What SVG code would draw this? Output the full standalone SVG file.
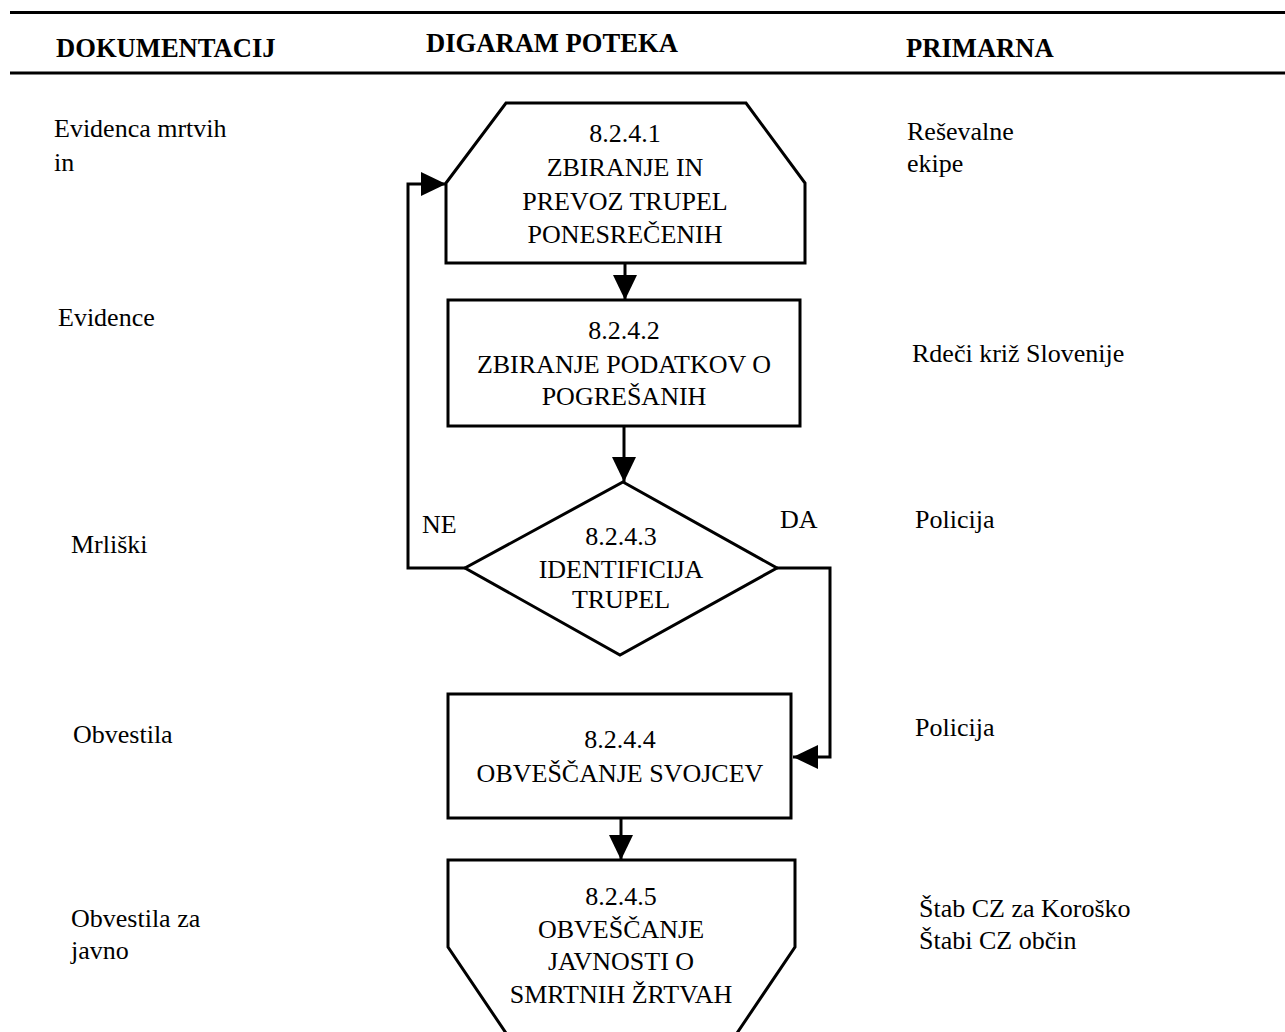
<svg xmlns="http://www.w3.org/2000/svg" width="1285" height="1032" viewBox="0 0 1285 1032" font-family="'Liberation Serif', 'Times New Roman', Tinos, 'DejaVu Serif', serif">
<style>
text{font-family:'Liberation Serif','Times New Roman',Tinos,'DejaVu Serif',serif;font-size:26px;fill:#000}
.h{font-weight:bold;font-size:26.6px}
.c{text-anchor:middle}
.shape{fill:#fff;stroke:#000;stroke-width:3}
.conn{fill:none;stroke:#000;stroke-width:3}
.rule{stroke:#000;stroke-width:3}
</style>
<defs>
<marker id="arr" viewBox="0 0 25 24" refX="25" refY="12" markerWidth="25" markerHeight="24" markerUnits="userSpaceOnUse" orient="auto">
<path d="M0,0 L25,12 L0,24 Z" fill="#000"/>
</marker>
</defs>
<rect width="1285" height="1032" fill="#fff"/>
<g id="header">
<line class="rule" x1="10" y1="12.5" x2="1285" y2="12.5"/>
<line class="rule" x1="10" y1="73" x2="1285" y2="73"/>
<text class="h" x="56" y="57">DOKUMENTACIJ</text>
<text class="h" x="426" y="52">DIGARAM POTEKA</text>
<text class="h" x="906" y="57">PRIMARNA</text>
</g>
<g id="left-column">
<text x="54" y="137">Evidenca mrtvih</text>
<text x="54" y="171">in</text>
<text x="58" y="326">Evidence</text>
<text x="71" y="553">Mrliški</text>
<text x="73" y="743">Obvestila</text>
<text x="71" y="927">Obvestila za</text>
<text x="71" y="959">javno</text>
</g>
<g id="right-column">
<text x="907" y="140">Reševalne</text>
<text x="907" y="172">ekipe</text>
<text x="912" y="362">Rdeči križ Slovenije</text>
<text x="915" y="528">Policija</text>
<text x="915" y="736">Policija</text>
<text x="919" y="917">Štab CZ za Koroško</text>
<text x="919" y="949">Štabi CZ občin</text>
</g>
<g id="connectors">
<line class="conn" x1="625" y1="263" x2="625" y2="300" marker-end="url(#arr)"/>
<line class="conn" x1="624" y1="426" x2="624" y2="482" marker-end="url(#arr)"/>
<polyline class="conn" points="465,568 408,568 408,184 446,184" marker-end="url(#arr)"/>
<polyline class="conn" points="777,568 830,568 830,757 793,757" marker-end="url(#arr)"/>
<line class="conn" x1="621" y1="818" x2="621" y2="860" marker-end="url(#arr)"/>
<text x="422" y="533">NE</text>
<text x="780" y="528">DA</text>
</g>
<g id="node-8-2-4-1">
<polygon class="shape" points="446,183 506,103 746,103 805,183 805,263 446,263"/>
<text class="c" x="625" y="142">8.2.4.1</text>
<text class="c" x="625" y="176">ZBIRANJE IN</text>
<text class="c" x="625" y="210">PREVOZ TRUPEL</text>
<text class="c" x="625" y="243">PONESREČENIH</text>
</g>
<g id="node-8-2-4-2">
<rect class="shape" x="448" y="300" width="352" height="126"/>
<text class="c" x="624" y="339">8.2.4.2</text>
<text class="c" x="624" y="373">ZBIRANJE PODATKOV O</text>
<text class="c" x="624" y="405">POGREŠANIH</text>
</g>
<g id="node-8-2-4-3">
<polygon class="shape" points="623,482 777,568 620,655 465,568"/>
<text class="c" x="621" y="545">8.2.4.3</text>
<text class="c" x="621" y="578">IDENTIFICIJA</text>
<text class="c" x="621" y="608">TRUPEL</text>
</g>
<g id="node-8-2-4-4">
<rect class="shape" x="448" y="694" width="343" height="124"/>
<text class="c" x="620" y="748">8.2.4.4</text>
<text class="c" x="620" y="782">OBVEŠČANJE SVOJCEV</text>
</g>
<g id="node-8-2-4-5">
<polygon class="shape" points="448,860 795,860 795,947 731,1042 512,1042 448,947"/>
<text class="c" x="621" y="905">8.2.4.5</text>
<text class="c" x="621" y="938">OBVEŠČANJE</text>
<text class="c" x="621" y="970">JAVNOSTI O</text>
<text class="c" x="621" y="1003">SMRTNIH ŽRTVAH</text>
</g>
</svg>
